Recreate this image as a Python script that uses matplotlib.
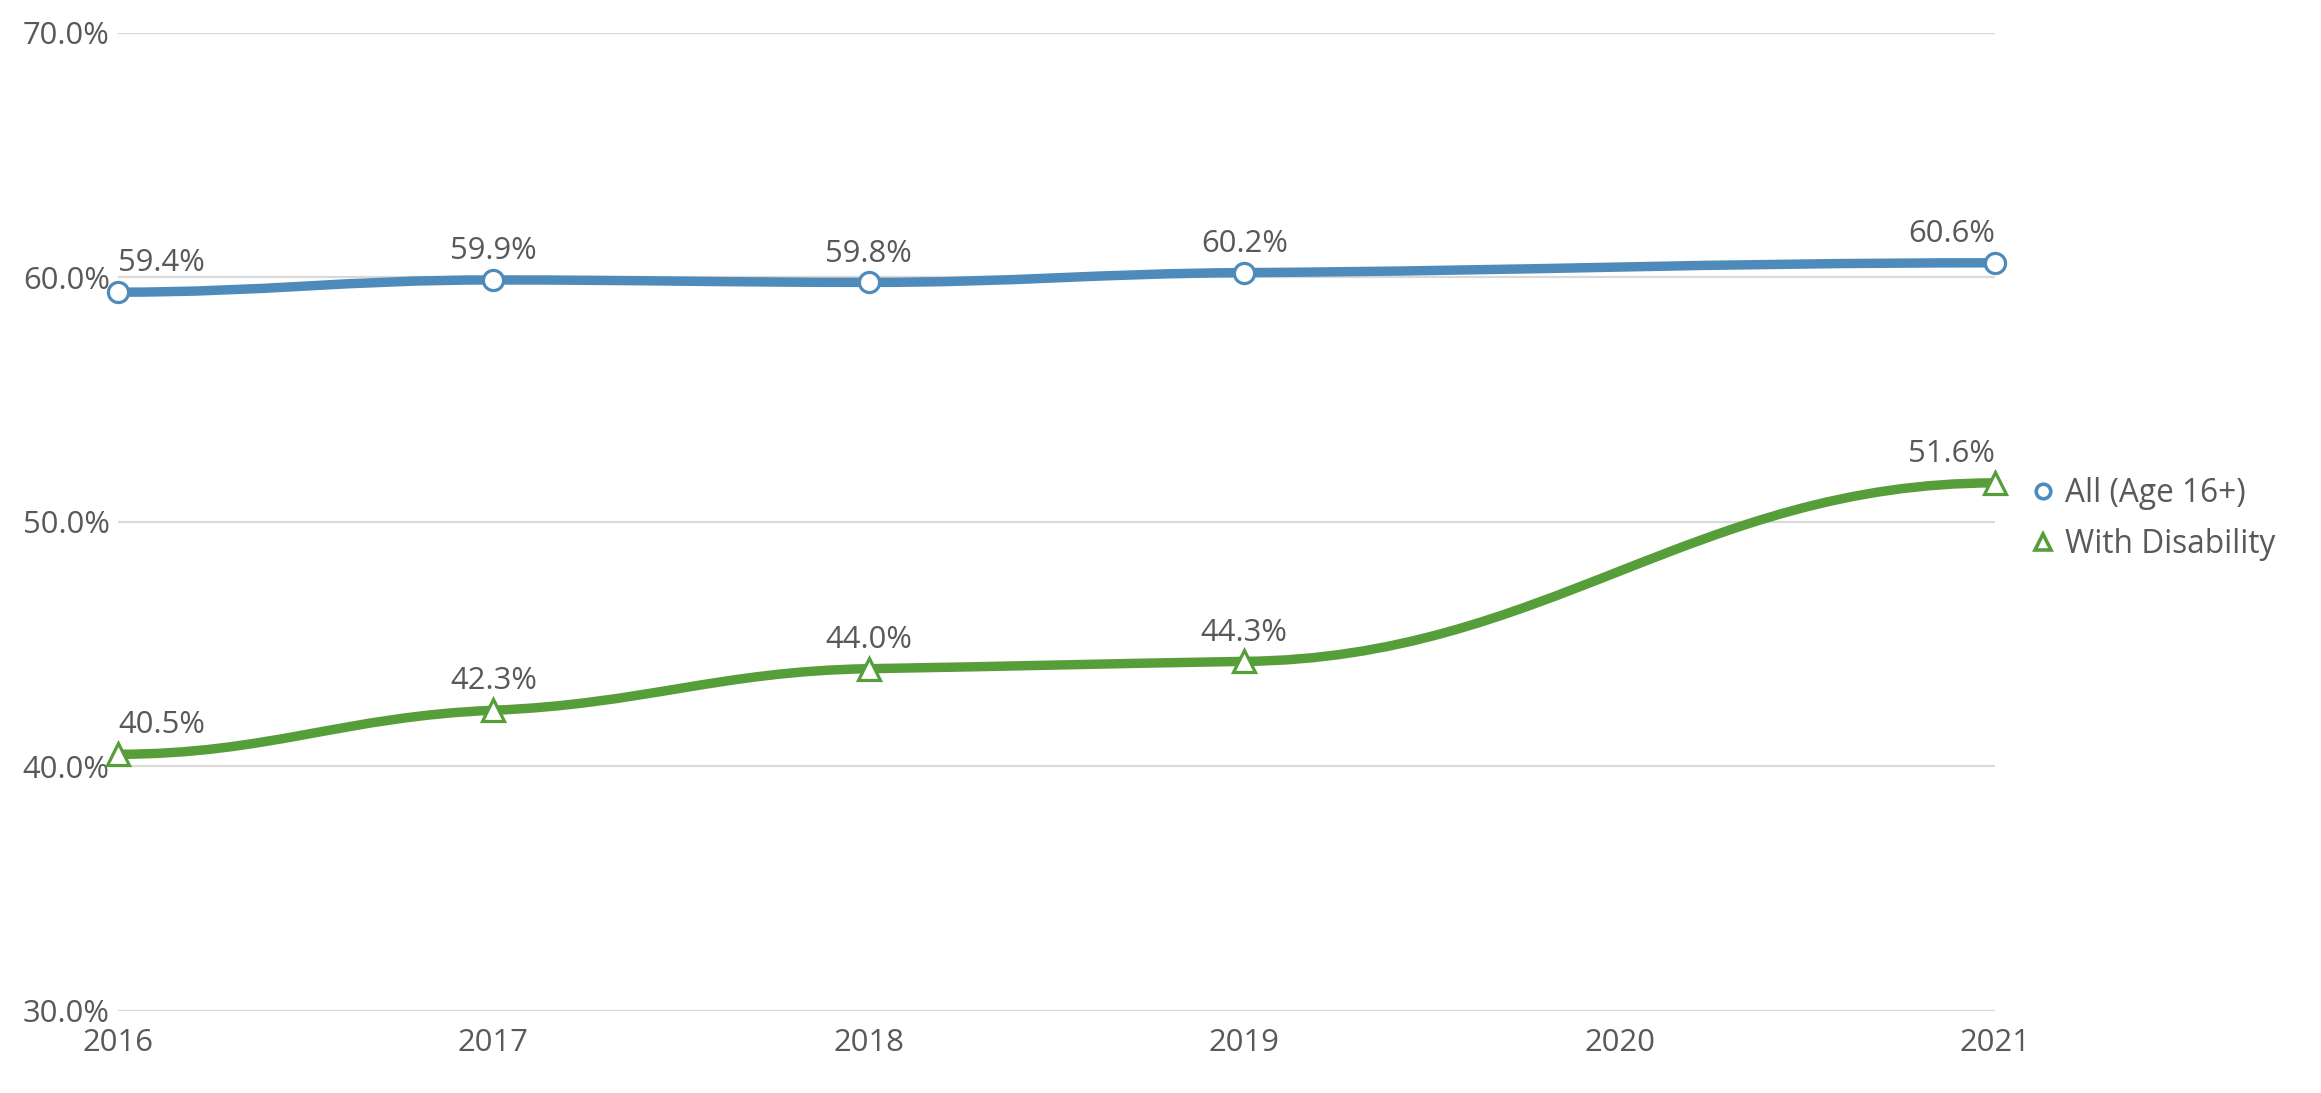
import matplotlib
matplotlib.use("Agg")
import matplotlib.pyplot as plt
from matplotlib.path import Path
from matplotlib.patches import PathPatch
from matplotlib.lines import Line2D

years = [2016, 2017, 2018, 2019, 2020, 2021]
all_age16 = [59.4, 59.9, 59.8, 60.2, None, 60.6]
with_disability = [40.5, 42.3, 44.0, 44.3, None, 51.6]
series_names = ["All (Age 16+)", "With Disability"]
y_ticks = [30, 40, 50, 60, 70]

BLUE = "#4e8bbb"
GREEN = "#569e3a"
TEXT = "#58595b"
GRID = "#d9d9d9"

plt.rcParams['font.family'] = ['Open Sans', 'DejaVu Sans']

W, H = 2321, 1093
fig = plt.figure(figsize=(W / 100, H / 100), dpi=100)
left, right = 118 / W, 1995 / W
bottom, top = (H - 1011) / H, (H - 33) / H
ax = fig.add_axes([left, bottom, right - left, top - bottom])
ax.set_xlim(2016, 2021)
ax.set_ylim(30, 70)


def spline_path(xs, ys, flat=0.35):
    """Smooth spline through the given points (null points skipped)."""
    pts = [(x, y) for x, y in zip(xs, ys) if y is not None]
    s = 1.5
    d = s + 1
    n = len(pts)
    rc = [None] * n
    lc = [None] * n
    for i in range(n):
        px, py = pts[i]
        if 0 < i < n - 1:
            lx, ly = pts[i - 1]
            nx, ny = pts[i + 1]
            lcx = (s * px + lx) / d
            lcy = (s * py + ly) / d
            rcx = (s * px + nx) / d
            rcy = (s * py + ny) / d
            corr = (rcy - lcy) * (rcx - px) / (rcx - lcx) + py - rcy
            lcy += corr
            rcy += corr
            if lcy > ly and lcy > py:
                lcy = max(ly, py); rcy = 2 * py - lcy
            elif lcy < ly and lcy < py:
                lcy = min(ly, py); rcy = 2 * py - lcy
            if rcy > ny and rcy > py:
                rcy = max(ny, py); lcy = 2 * py - rcy
            elif rcy < ny and rcy < py:
                rcy = min(ny, py); lcy = 2 * py - rcy
            lcy = py + flat * (lcy - py)
            rcy = py + flat * (rcy - py)
            lc[i] = (lcx, lcy)
            rc[i] = (rcx, rcy)
        elif i == 0:
            nx = pts[1][0]
            rc[i] = ((s * px + nx) / d, py)
        else:
            lx = pts[i - 1][0]
            lc[i] = ((s * px + lx) / d, py)
    verts = [pts[0]]
    codes = [Path.MOVETO]
    for i in range(1, n):
        verts += [rc[i - 1], lc[i], pts[i]]
        codes += [Path.CURVE4] * 3
    return Path(verts, codes)


for vals, color, marker in [(all_age16, BLUE, 'o'), (with_disability, GREEN, '^')]:
    path = spline_path(years, vals)
    ax.add_patch(PathPatch(path, facecolor='none', edgecolor=color, lw=6.8,
                           capstyle='butt', joinstyle='round', clip_on=False, zorder=3))
    xs = [x for x, v in zip(years, vals) if v is not None]
    vs = [v for v in vals if v is not None]
    ax.plot(xs, vs, linestyle='none', marker=marker, ms=14.5 if marker == 'o' else 15.5,
            mfc='white', mec=color, mew=2.3, clip_on=False, zorder=4)
    for i, (x, v) in enumerate(zip(xs, vs)):
        ha = 'center'
        if i == 0:
            ha = 'left'
        elif i == len(xs) - 1:
            ha = 'right'
        ax.annotate(f"{v:.1f}%", (x, v), xytext=(0, 15.0), textcoords='offset points',
                    ha=ha, va='baseline', fontsize=22.3, color=TEXT, zorder=5)

ax.set_yticks(y_ticks)
ax.set_yticklabels([f"{t:.1f}%" for t in y_ticks])
ax.set_xticks(years)
ax.set_xticklabels([str(y) for y in years])
ax.grid(axis='y', color=GRID, lw=1.6)
ax.grid(axis='x', visible=False)
ax.set_axisbelow(True)
for sp in ax.spines.values():
    sp.set_visible(False)
ax.tick_params(axis='both', length=0, labelsize=22.3, labelcolor=TEXT)
ax.tick_params(axis='y', pad=6)
ax.tick_params(axis='x', pad=12)

handles = [Line2D([], [], linestyle='none', marker='o', ms=10.5, mfc='white', mec=BLUE, mew=2.6),
           Line2D([], [], linestyle='none', marker='^', ms=12, mfc='white', mec=GREEN, mew=2.6)]
fig.legend(handles, series_names, loc='center left', bbox_to_anchor=(2030 / W, (H - 519) / H),
           frameon=False, fontsize=22.8, labelcolor=TEXT, handlelength=0.8,
           handletextpad=0.3, labelspacing=0.55, borderpad=0, borderaxespad=0)

fig.savefig("out.png", dpi=100, facecolor='white')
